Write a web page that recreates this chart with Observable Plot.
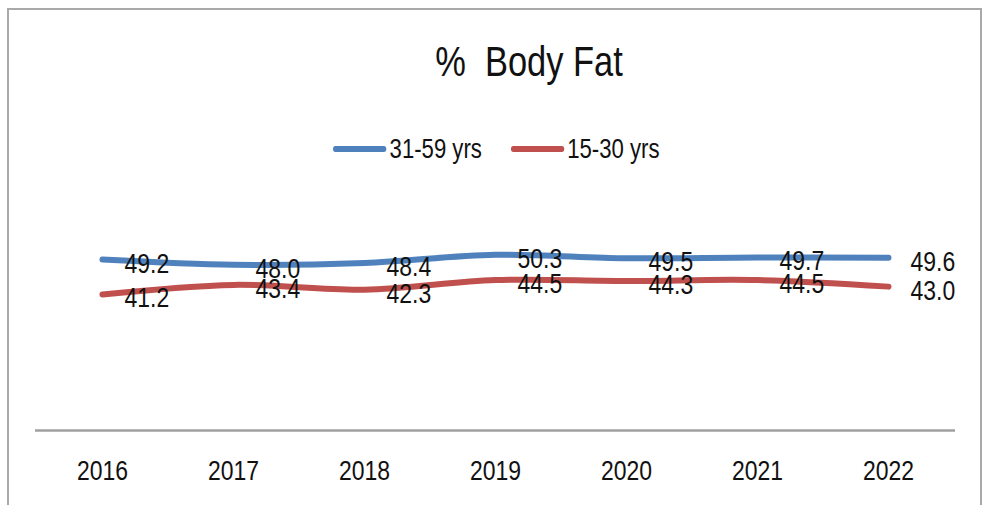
<!DOCTYPE html>
<html>
<head>
<meta charset="utf-8">
<script src="https://cdn.jsdelivr.net/npm/d3@7"></script>
<script src="https://cdn.jsdelivr.net/npm/@observablehq/plot@0.6"></script>
<style>
  html, body { margin: 0; padding: 0; background: #fff; }
  body { width: 990px; height: 505px; overflow: hidden; }
  #wrap { position: relative; width: 990px; height: 505px; font-family: "Liberation Sans", Arial, sans-serif; color: #111; }
  #frame { position: absolute; left: 7px; top: 8px; width: 975px; height: 520px; border: 2px solid #a9a9a9; box-sizing: border-box; }
  #title { position: absolute; left: 329px; width: 400px; top: 41px; text-align: center; font-size: 42px; line-height: 42px; white-space: pre; transform: scaleX(0.82); transform-origin: 50% 50%; }
  #legend { position: absolute; left: 333px; top: 136px; height: 26px; display: flex; align-items: center; font-size: 27px; line-height: 26px; white-space: nowrap; transform: scaleX(0.82); transform-origin: 0 50%; }
  .sw { display: inline-block; width: 65px; height: 6px; border-radius: 3px; margin-right: 4px; }
  .item { display: flex; align-items: center; margin-right: 35px; }
  #chart { position: absolute; left: 0; top: 0; }
</style>
</head>
<body>
<div id="wrap">
  <div id="frame"></div>
  <div id="chart"></div>
  <div id="title"></div>
  <div id="legend"></div>
</div>
<script>
const years = ["2016", "2017", "2018", "2019", "2020", "2021", "2022"];
const seriesNames = ["31-59 yrs", "15-30 yrs"];
const seriesColors = ["#4f81bd", "#c0504d"];
const values3159 = [49.2, 48.0, 48.4, 50.3, 49.5, 49.7, 49.6];
const values1530 = [41.2, 43.4, 42.3, 44.5, 44.3, 44.5, 43.0];
const titleText = "%  Body Fat";

const rows = [];
years.forEach((yr, i) => {
  rows.push({year: yr, series: seriesNames[0], value: values3159[i]});
  rows.push({year: yr, series: seriesNames[1], value: values1530[i]});
});

const font = '"Liberation Sans", Arial, sans-serif';
const narrow = 0.82;

const chart = Plot.plot({
  width: 990,
  height: 505,
  marginLeft: 35,
  marginRight: 35,
  marginTop: 212,
  marginBottom: 75,
  style: {fontFamily: font, fontSize: "28px", color: "#111", background: "transparent", overflow: "visible"},
  x: {type: "point", domain: years, padding: 0.5, axis: null},
  y: {domain: [10, 60], axis: null},
  color: {domain: seriesNames, range: seriesColors},
  marks: [
    Plot.ruleY([10], {stroke: "#a0a0a0", strokeWidth: 2.5}),
    Plot.axisX({tickSize: 0, tickPadding: 30, fontSize: 28, fill: "#111", label: null}),
    Plot.line(rows, {x: "year", y: "value", z: "series", stroke: "series", strokeWidth: 6, curve: "catmull-rom", strokeLinecap: "round"}),
    Plot.text(rows, {x: "year", y: "value", text: d => d.value.toFixed(1), textAnchor: "start", dx: 22, dy: 4, fontSize: 28, fill: "#111"})
  ]
});
// condense all text horizontally (narrow face like the reference)
chart.querySelectorAll("text").forEach(t => {
  const tr = t.getAttribute("transform");
  if (tr) {
    t.setAttribute("transform", tr + ` scale(${narrow},1)`);
  } else {
    const x = +(t.getAttribute("x") || 0), y = +(t.getAttribute("y") || 0);
    t.removeAttribute("x"); t.removeAttribute("y");
    t.setAttribute("transform", `translate(${x},${y}) scale(${narrow},1)`);
  }
});
document.getElementById("chart").appendChild(chart);

document.getElementById("title").textContent = titleText;
const legend = document.getElementById("legend");
seriesNames.forEach((name, i) => {
  const item = document.createElement("span");
  item.className = "item";
  const sw = document.createElement("span");
  sw.className = "sw";
  sw.style.background = seriesColors[i];
  const lab = document.createElement("span");
  lab.textContent = name;
  item.appendChild(sw);
  item.appendChild(lab);
  legend.appendChild(item);
});
</script>
</body>
</html>
